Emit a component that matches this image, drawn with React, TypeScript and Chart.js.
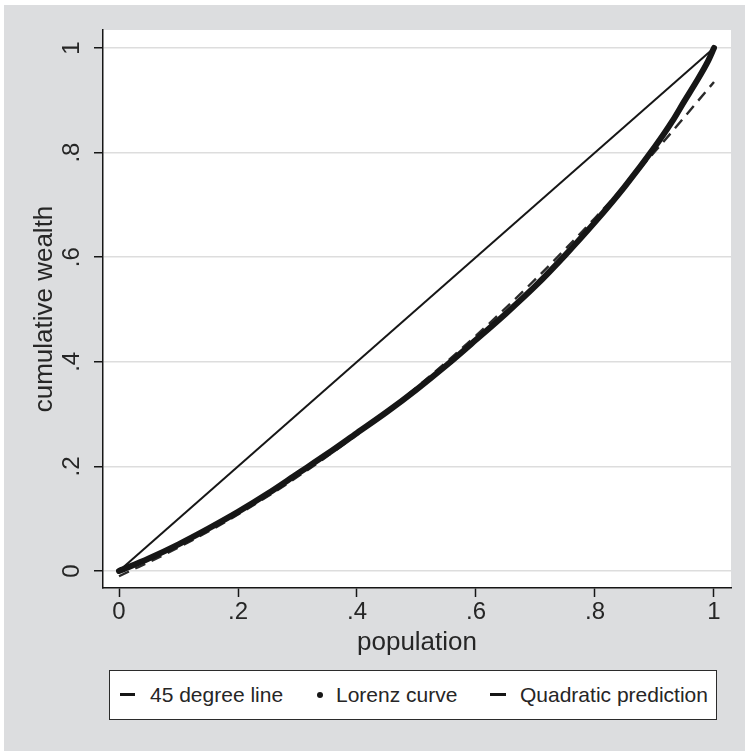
import React, { useEffect, useRef } from 'react';
import { Chart, registerables } from 'chart.js';

Chart.register(...registerables);

// ---- data ----
const LINE45_X = [0, 1];
const LINE45_Y = [0, 1];

const LORENZ_X = [0, 0.05, 0.1, 0.15, 0.2, 0.25, 0.3, 0.35, 0.4, 0.45, 0.5, 0.55, 0.6, 0.65, 0.7, 0.75, 0.8, 0.85, 0.9, 0.93, 0.95, 0.97, 0.99, 1.0];
const LORENZ_Y = [0, 0.024, 0.051, 0.081, 0.113, 0.148, 0.186, 0.224, 0.264, 0.304, 0.347, 0.393, 0.442, 0.492, 0.545, 0.604, 0.667, 0.735, 0.81, 0.86, 0.898, 0.935, 0.975, 1.0];

const QUAD_X = [0, 0.1, 0.2, 0.3, 0.4, 0.5, 0.6, 0.7, 0.8, 0.9, 1.0];
const QUAD_Y = [-0.01, 0.045, 0.108, 0.18, 0.261, 0.351, 0.45, 0.558, 0.675, 0.801, 0.935];

const X_TICKS = [0, 0.2, 0.4, 0.6, 0.8, 1];
const X_TICK_LABELS = ['0', '.2', '.4', '.6', '.8', '1'];
const Y_TICKS = [0, 0.2, 0.4, 0.6, 0.8, 1];
const Y_TICK_LABELS = ['0', '.2', '.4', '.6', '.8', '1'];

const X_TITLE = 'population';
const Y_TITLE = 'cumulative wealth';
const LEGEND_LABELS = ['45 degree line', 'Lorenz curve', 'Quadratic prediction'];

const FONT = "'Liberation Sans', Arial, Helvetica, sans-serif";
const TEXT = '#262626';
const INK = '#161616';
const BG_GREY = '#dcdddf';

const pts = (xs: number[], ys: number[]) => xs.map((x, i) => ({ x, y: ys[i] }));

const backgroundPlugin = {
  id: 'stataBackground',
  beforeDraw(chart: any) {
    const { ctx, chartArea, width, height } = chart;
    ctx.save();
    ctx.fillStyle = '#ffffff';
    ctx.fillRect(0, 0, width, height);
    ctx.fillStyle = BG_GREY;
    ctx.fillRect(4, 5, width - 4, height - 8);
    ctx.fillStyle = '#ffffff';
    ctx.fillRect(chartArea.left, chartArea.top, chartArea.right - chartArea.left, chartArea.bottom - chartArea.top);
    ctx.restore();
  },
};

export default function App() {
  const canvasRef = useRef<HTMLCanvasElement | null>(null);

  useEffect(() => {
    if (!canvasRef.current) return;
    const chart = new Chart(canvasRef.current, {
      type: 'scatter',
      data: {
        datasets: [
          {
            label: LEGEND_LABELS[0],
            data: pts(LINE45_X, LINE45_Y),
            showLine: true,
            borderColor: INK,
            borderWidth: 2,
            pointRadius: 0,
            order: 3,
          },
          {
            label: LEGEND_LABELS[1],
            data: pts(LORENZ_X, LORENZ_Y),
            showLine: true,
            borderColor: INK,
            backgroundColor: INK,
            borderWidth: 6,
            borderCapStyle: 'round',
            borderJoinStyle: 'round',
            cubicInterpolationMode: 'monotone',
            pointRadius: 0,
            order: 1,
          },
          {
            label: LEGEND_LABELS[2],
            data: pts(QUAD_X, QUAD_Y),
            showLine: true,
            borderColor: '#2a2a2a',
            borderWidth: 2.4,
            borderDash: [11, 7],
            cubicInterpolationMode: 'monotone',
            pointRadius: 0,
            order: 2,
          },
        ],
      } as any,
      options: {
        animation: false,
        responsive: true,
        maintainAspectRatio: false,
        layout: { padding: { left: 8, top: 30, right: 14, bottom: 96 } },
        plugins: {
          legend: { display: false },
          tooltip: { enabled: false },
        },
        scales: {
          x: {
            type: 'linear',
            min: -0.0269,
            max: 1.0286,
            afterBuildTicks: (scale: any) => {
              scale.ticks = X_TICKS.map((v) => ({ value: v }));
            },
            afterFit: (scale: any) => {
              scale.height = 70;
            },
            ticks: {
              callback: (v: any) => {
                const i = X_TICKS.findIndex((t) => Math.abs(t - Number(v)) < 1e-9);
                return i >= 0 ? X_TICK_LABELS[i] : '';
              },
              font: { family: FONT, size: 24 },
              color: TEXT,
              padding: 1,
              maxRotation: 0,
              minRotation: 0,
            },
            grid: {
              drawOnChartArea: false,
              drawTicks: true,
              tickLength: 9,
              tickColor: INK,
              tickWidth: 1.5,
            },
            border: { display: true, color: INK, width: 1.5 },
            title: {
              display: true,
              text: X_TITLE,
              font: { family: FONT, size: 26 },
              color: TEXT,
              padding: { top: 0, bottom: 0 },
            },
          },
          y: {
            type: 'linear',
            min: -0.0325,
            max: 1.0344,
            afterBuildTicks: (scale: any) => {
              scale.ticks = Y_TICKS.map((v) => ({ value: v }));
            },
            afterFit: (scale: any) => {
              scale.width = 95;
            },
            ticks: {
              callback: (v: any) => {
                const i = Y_TICKS.findIndex((t) => Math.abs(t - Number(v)) < 1e-9);
                return i >= 0 ? Y_TICK_LABELS[i] : '';
              },
              font: { family: FONT, size: 24 },
              color: TEXT,
              padding: 12,
              minRotation: 90,
              maxRotation: 90,
              crossAlign: 'center',
            },
            grid: {
              drawOnChartArea: true,
              color: '#dddddd',
              lineWidth: 1.5,
              drawTicks: true,
              tickLength: 9,
              tickColor: INK,
              tickWidth: 1.5,
            },
            border: { display: true, color: INK, width: 1.5 },
            title: {
              display: true,
              text: Y_TITLE,
              font: { family: FONT, size: 26 },
              color: TEXT,
              padding: { top: 21, bottom: 0 },
            },
          },
        },
      } as any,
      plugins: [backgroundPlugin],
    });
    return () => chart.destroy();
  }, []);

  const legendText: React.CSSProperties = {
    position: 'absolute',
    top: 0,
    height: 47,
    lineHeight: '47px',
    fontFamily: FONT,
    fontSize: 21,
    color: TEXT,
    whiteSpace: 'nowrap',
  };

  return (
    <div style={{ position: 'absolute', left: 0, top: 0, width: 745, height: 754, overflow: 'hidden' }}>
      <canvas ref={canvasRef} />
      <div
        style={{
          position: 'absolute',
          left: 109,
          top: 670,
          width: 608,
          height: 50,
          boxSizing: 'border-box',
          border: '1.5px solid #2b2b2b',
          background: '#ffffff',
        }}
      >
        <div style={{ position: 'absolute', left: 10, top: 22, width: 15, height: 3, background: INK }} />
        <span style={{ ...legendText, left: 40 }}>{LEGEND_LABELS[0]}</span>
        <div style={{ position: 'absolute', left: 207, top: 20.5, width: 6, height: 6, borderRadius: 3, background: INK }} />
        <span style={{ ...legendText, left: 226 }}>{LEGEND_LABELS[1]}</span>
        <div style={{ position: 'absolute', left: 380, top: 22, width: 16, height: 3, background: INK }} />
        <span style={{ ...legendText, left: 410 }}>{LEGEND_LABELS[2]}</span>
      </div>
    </div>
  );
}
